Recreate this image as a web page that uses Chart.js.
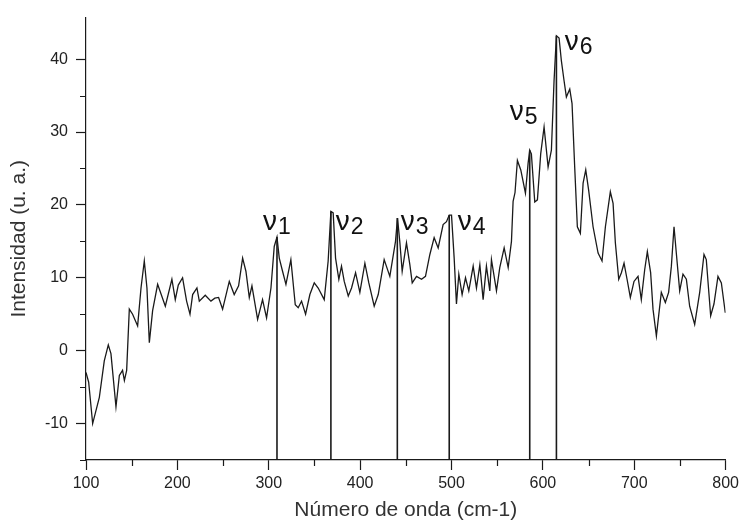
<!DOCTYPE html>
<html>
<head>
<meta charset="utf-8">
<script src="https://cdn.jsdelivr.net/npm/chart.js@4.4.1/dist/chart.umd.min.js"></script>
<style>
  html, body { margin: 0; padding: 0; background: #fff; }
  #wrap { width: 743px; height: 527px; }
</style>
</head>
<body>
<div id="wrap"><canvas id="spectrum" width="743" height="527"></canvas></div>
<script>
// espectro
const waveNumber = [
  100, 102.9, 107.3, 114.6, 120, 124.4, 127.3, 132.8, 136.5, 140, 142, 144.5, 147.4, 151, 156.5,
  160.2, 163.8, 166.7, 169.3, 172.9, 178.4, 186.8, 194, 197.7, 201, 205.7, 210.1, 213.8, 216.7,
  221.4, 224, 230.5, 236.7, 241, 245.1, 249.5, 256.8, 262.2, 267, 271.4, 275, 278.7, 281.6, 287.8,
  293.2, 297.6, 302.4, 306, 309, 311.5, 315.1, 318.8, 324.2, 329, 332.2, 335.9, 340.3, 345, 349.8,
  354.1, 360.7, 365, 368, 370.5, 373.1, 376.7, 379.6, 382.6, 387, 390.6, 395, 399.7, 405.2, 409.5,
  415.4, 419.8, 426.3, 432.5, 438.7, 440.9, 443.5, 446, 450.7, 454.4, 457, 461.7, 467.2, 471.5,
  476.3, 481, 485.4, 490.8, 494.5, 497.5, 500, 502.9, 505.4, 508, 511.6, 515.3, 518.9, 523.7,
  527.3, 531, 534.6, 538.2, 541.9, 543.7, 549.2, 552.8, 557.6, 562, 565.6, 567.4, 569.5, 572.1,
  575.8, 580.9, 583.8, 585.6, 587.4, 591.1, 594, 597.6, 601.3, 605.7, 609.3, 612.2, 614.8, 617.7,
  620.2, 623.2, 625.7, 629.4, 631.9, 634.8, 637.7, 641, 644, 646.9, 650.1, 654.9, 660.4, 664.7,
  668.4, 673.8, 676.8, 679.3, 683, 685.9, 688.8, 692.1, 695.7, 699.7, 704.1, 707.7, 711.4, 714.3,
  717.9, 720.5, 724.2, 726.7, 729.6, 734, 737.6, 740.6, 743.5, 746, 749.7, 753.3, 757, 760.6,
  766.1, 771.6, 776.3, 778.8, 783.6, 787.2, 791.6, 795.3, 799.6
];
const intensity = [
  -3.0, -4.3, -10.0, -6.4, -1.4, 0.8, -0.4, -7.7, -3.4, -2.7, -4.1, -2.7, 5.7, 5.0, 3.4,
  8.6, 12.3, 8.6, 1.1, 5.5, 9.1, 6.1, 9.8, 7.0, 9.0, 10.0, 6.8, 5.0, 7.7,
  8.6, 6.8, 7.6, 6.8, 7.2, 7.3, 5.7, 9.5, 7.7, 8.9, 12.7, 10.9, 7.3, 8.9, 4.3,
  7.0, 4.5, 8.6, 14.3, 15.6, 12.7, 10.9, 9.1, 12.5, 6.3, 5.9, 6.8, 5.0, 7.7, 9.3,
  8.6, 7.0, 12.3, 19.1, 18.9, 12.7, 9.8, 11.6, 9.5, 7.5, 8.6, 10.7, 8.0, 12.0, 9.3,
  6.1, 7.7, 12.5, 10.2, 15.0, 18.2, 14.8, 10.9, 14.8, 11.8, 9.3, 10.2, 9.8, 10.2,
  13.2, 15.5, 14.1, 17.3, 17.7, 18.6, 18.6, 12.7, 6.4, 10.5, 7.7, 10.0, 8.2, 11.6,
  8.6, 11.8, 7.0, 11.6, 8.2, 12.5, 8.2, 11.4, 14.1, 11.4, 15.0, 20.5, 21.7, 26.1,
  24.8, 21.6, 25.7, 27.5, 27.0, 20.4, 20.7, 27.0, 30.7, 25.2, 27.5, 37.0, 43.2, 42.9,
  39.8, 37.0, 34.8, 35.9, 33.9, 25.2, 17.0, 16.1, 23.0, 24.8, 22.0, 17.0, 13.4, 12.3,
  17.0, 21.8, 20.2, 14.8, 9.8, 10.7, 12.0, 9.8, 7.3, 9.5, 10.2, 7.0, 11.1, 13.6,
  10.7, 5.7, 2.0, 4.8, 8.0, 6.6, 8.0, 11.6, 17.0, 13.4, 8.2, 10.5, 9.8, 6.1,
  3.6, 8.0, 13.2, 12.5, 4.8, 6.4, 10.2, 9.3, 5.2
];

// bandas marcadas (nu1..nu6)
const peakPos = [309, 368, 440.7, 497.5, 585.6, 614.8];
const peakTop = [15.6, 19.1, 18.2, 18.6, 27.5, 43.2];
const peakNames = ['1', '2', '3', '4', '5', '6'];
const labelX = [293.6, 373.4, 444.5, 506.9, 563.7, 623.9];
const labelY = [16.6, 16.6, 16.6, 16.6, 31.6, 41.3];

const yMin = -15;
const yMax = 45.7;
const axisColor = '#1a1a1a';
const fontFamily = '"Liberation Sans", Arial, sans-serif';

// rayitas cortas cada 5 / cada 50
const minorTicks = {
  id: 'minorTicks',
  afterDraw(chart) {
    const { ctx, chartArea: a, scales: { x, y } } = chart;
    ctx.save();
    ctx.strokeStyle = axisColor;
    ctx.lineWidth = 1.2;
    ctx.beginPath();
    x.ticks.forEach(t => {
      if (t.value % 100 !== 0) {
        const px = Math.round(x.getPixelForValue(t.value)) + 0.5;
        ctx.moveTo(px, a.bottom);
        ctx.lineTo(px, a.bottom + 6);
      }
    });
    y.ticks.forEach(t => {
      if (t.value % 10 !== 0) {
        const py = Math.round(y.getPixelForValue(t.value)) + 0.5;
        ctx.moveTo(a.left, py);
        ctx.lineTo(a.left - 6, py);
      }
    });
    ctx.stroke();
    ctx.restore();
  }
};

// etiquetas ν con subíndice
const peakLabels = {
  id: 'peakLabels',
  afterDatasetsDraw(chart) {
    const { ctx, scales: { x, y } } = chart;
    ctx.save();
    ctx.fillStyle = '#111';
    ctx.textAlign = 'left';
    ctx.textBaseline = 'alphabetic';
    labelX.forEach((v, i) => {
      const px = x.getPixelForValue(v);
      const py = y.getPixelForValue(labelY[i]);
      ctx.font = '28px ' + fontFamily;
      ctx.fillText('ν', px, py);
      const w = ctx.measureText('ν').width;
      ctx.font = '23px ' + fontFamily;
      ctx.fillText(peakNames[i], px + w + 1, py + 4);
    });
    ctx.restore();
  }
};

const datasets = [{
  data: waveNumber.map((w, i) => ({ x: w, y: intensity[i] })),
  borderColor: axisColor,
  borderWidth: 1.3,
  pointRadius: 0,
  tension: 0
}];
peakPos.forEach((p, i) => {
  datasets.push({
    data: [{ x: p, y: yMin }, { x: p, y: peakTop[i] }],
    borderColor: axisColor,
    borderWidth: 1.6,
    pointRadius: 0
  });
});

new Chart(document.getElementById('spectrum'), {
  type: 'line',
  data: { datasets },
  options: {
    responsive: false,
    animation: false,
    events: [],
    layout: { padding: { top: 15, right: 17, bottom: 0, left: 0 } },
    plugins: { legend: { display: false }, tooltip: { enabled: false } },
    scales: {
      x: {
        type: 'linear',
        min: 100,
        max: 800,
        afterFit: s => { s.height = 67; },
        border: { display: true, color: axisColor, width: 1.2 },
        grid: {
          drawOnChartArea: false,
          drawTicks: true,
          tickLength: 10,
          tickWidth: 1.2,
          tickColor: c => (c.tick && c.tick.value % 100 === 0) ? axisColor : 'rgba(0,0,0,0)'
        },
        ticks: {
          stepSize: 50,
          padding: 4,
          maxRotation: 0,
          autoSkip: false,
          color: '#222',
          font: { family: fontFamily, size: 16 },
          callback: v => (v % 100 === 0 ? String(v) : '')
        },
        title: {
          display: true,
          text: 'Número de onda (cm-1)',
          color: '#333',
          font: { family: fontFamily, size: 21 },
          padding: { top: 0, bottom: 4 }
        }
      },
      y: {
        min: yMin,
        max: yMax,
        afterFit: s => { s.width = 86; },
        afterBuildTicks: s => {
          s.ticks = s.ticks.filter(t => Math.abs(t.value / 5 - Math.round(t.value / 5)) < 1e-6);
        },
        border: { display: true, color: axisColor, width: 1.2 },
        grid: {
          drawOnChartArea: false,
          drawTicks: true,
          tickLength: 10,
          tickWidth: 1.2,
          tickColor: c => (c.tick && c.tick.value % 10 === 0) ? axisColor : 'rgba(0,0,0,0)'
        },
        ticks: {
          stepSize: 5,
          padding: 8,
          autoSkip: false,
          color: '#222',
          font: { family: fontFamily, size: 16 },
          callback: v => (v % 10 === 0 ? String(v) : '')
        },
        title: {
          display: true,
          text: 'Intensidad (u. a.)',
          color: '#333',
          font: { family: fontFamily, size: 21 },
          padding: { top: 7, bottom: 0 }
        }
      }
    }
  },
  plugins: [minorTicks, peakLabels]
});
</script>
</body>
</html>
